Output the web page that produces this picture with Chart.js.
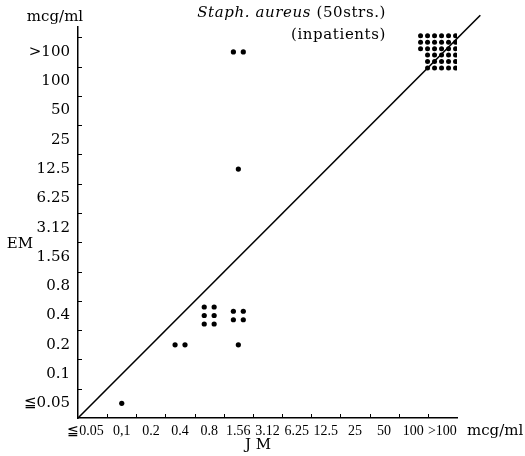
<!DOCTYPE html>
<html>
<head>
<meta charset="utf-8">
<script src="https://cdn.jsdelivr.net/npm/chart.js"></script>
<style>
  html, body { margin: 0; padding: 0; background: #fff; }
</style>
</head>
<body>
<canvas id="myChart" width="525" height="456"></canvas>
<script>
// MIC categories (mcg/ml)
const xLabels = ['≦0.05', '0,1', '0.2', '0.4', '0.8', '1.56', '3.12', '6.25', '12.5', '25', '50', '100', '>100'];
const yLabels = ['≦0.05', '0.1', '0.2', '0.4', '0.8', '1.56', '3.12', '6.25', '12.5', '25', '50', '100', '>100'];

// strains per cell: JM column, EM row, dots in each row of the cell (top to bottom)
const cellJM = ['0,1', '0.4', '0.8', '1.56', '1.56', '1.56', '1.56', '>100'];
const cellEM = ['≦0.05', '0.2', '0.4', '0.4', '0.2', '12.5', '>100', '>100'];
const cellRows = [[1], [2], [2, 2, 2], [2, 2], [1], [1], [2], [6, 6, 6, 5, 5, 5]];

const SERIF = "'DejaVu Serif', serif";
const NARROW = "'Liberation Serif', serif";

// spread the strains of one cell into a small block of dots
function cellDots(i) {
    const rows = cellRows[i];
    const cx = xLabels.indexOf(cellJM[i]) + 0.5;
    const cy = yLabels.indexOf(cellEM[i]) + 0.5;
    const widest = Math.max(...rows);
    const dense = rows.length > 3;
    const gx = dense ? 0.24 : 0.34;
    const gy = dense ? 0.22 : 0.29;
    const shift = dense ? -0.15 : 0;
    const pts = [];
    rows.forEach((n, r) => {
        for (let c = 0; c < n; c++) {
            pts.push({
                x: cx + shift + (c + (widest - n) - (widest - 1) / 2) * gx,
                y: cy + ((rows.length - 1) / 2 - r) * gy,
                r: dense ? 2.5 : 2.6
            });
        }
    });
    return pts;
}

const dots = cellRows.flatMap((_, i) => cellDots(i));

// small inward tick marks on the category boundaries, plus free text
const extras = {
    id: 'extras',
    afterDraw(chart) {
        const { ctx, chartArea: a, scales: { x, y } } = chart;
        ctx.save();
        ctx.strokeStyle = '#000';
        ctx.lineWidth = 1;
        for (let i = 1; i < xLabels.length; i++) {
            const px = Math.round(x.getPixelForValue(i)) + 0.5;
            ctx.beginPath();
            ctx.moveTo(px, a.bottom);
            ctx.lineTo(px, a.bottom - 4);
            ctx.stroke();
        }
        for (let i = 1; i <= yLabels.length; i++) {
            const py = Math.round(y.getPixelForValue(Math.min(i, y.max))) + 0.5;
            ctx.beginPath();
            ctx.moveTo(a.left, py);
            ctx.lineTo(a.left + 4, py);
            ctx.stroke();
        }

        ctx.fillStyle = '#000';
        ctx.textBaseline = 'middle';
        ctx.font = '15px ' + SERIF;
        ctx.textAlign = 'center';
        ctx.fillText('mcg/ml', 55, 17);
        ctx.fillText('EM', 20, 244);
        ctx.fillText('J M', 258, 445);
        ctx.textAlign = 'left';
        ctx.fillText('mcg/ml', 467, 431);

        // title, right aligned
        ctx.letterSpacing = '0.6px';
        ctx.font = '15px ' + SERIF;
        const tail = ' (50strs.)';
        const tw = ctx.measureText(tail).width;
        ctx.textAlign = 'right';
        ctx.fillText(tail, 386, 13);
        ctx.font = 'italic 15px ' + SERIF;
        ctx.fillText('Staph. aureus', 386 - tw, 13);
        ctx.font = '15px ' + SERIF;
        ctx.fillText('(inpatients)', 386, 35);
        ctx.restore();
    }
};

const config = {
    data: {
        datasets: [
            {
                type: 'scatter',
                label: 'strains',
                data: dots,
                backgroundColor: '#000',
                borderColor: '#000',
                borderWidth: 0,
                pointRadius: c => c.raw.r,
                pointHoverRadius: c => c.raw.r,
                order: 1
            },
            {
                type: 'line',
                label: 'JM = EM',
                data: [{ x: 0, y: 0 }, { x: 13.8, y: 13.75 }],
                borderColor: '#000',
                borderWidth: 1.6,
                pointRadius: 0,
                clip: false,
                order: 2
            }
        ]
    },
    options: {
        responsive: false,
        animation: false,
        layout: { padding: { left: 0, top: 27, right: 68, bottom: 0 } },
        plugins: {
            legend: { display: false },
            tooltip: { enabled: false }
        },
        scales: {
            x: {
                type: 'linear',
                min: 0,
                max: 13,
                afterBuildTicks: s => { s.ticks = xLabels.map((_, i) => ({ value: i + 0.5 })); },
                afterFit: s => { s.height = 38; },
                ticks: {
                    // the wide first label sits a little left of its cell, as printed
                    callback: v => (Math.floor(v) === 0 ? xLabels[0] + '    ' : xLabels[Math.floor(v)]),
                    autoSkip: false,
                    maxRotation: 0,
                    color: '#000',
                    padding: 5,
                    font: { family: NARROW, size: 14 }
                },
                grid: { display: false, drawTicks: false },
                border: { color: '#000', width: 1.5 }
            },
            y: {
                type: 'linear',
                min: 0,
                max: 13.35,
                afterBuildTicks: s => { s.ticks = yLabels.map((_, i) => ({ value: i + 0.5 })); },
                afterFit: s => { s.width = 78; },
                ticks: {
                    callback: v => yLabels[Math.floor(v)],
                    autoSkip: false,
                    color: '#000',
                    padding: 8,
                    font: { family: SERIF, size: 15 }
                },
                grid: { display: false, drawTicks: false },
                border: { color: '#000', width: 1.5 }
            }
        }
    },
    plugins: [extras]
};

const myChart = new Chart(document.getElementById('myChart'), config);
</script>
</body>
</html>
